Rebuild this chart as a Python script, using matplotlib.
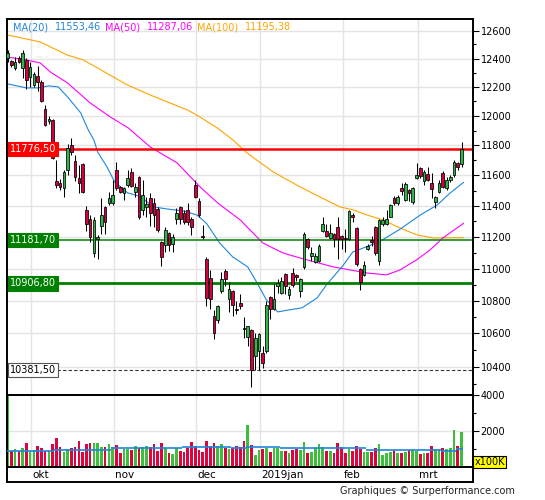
import matplotlib
matplotlib.use("Agg")
import matplotlib.pyplot as plt
from matplotlib import transforms

# daily candles, 21 Sep 2018 .. 19 Mar 2019 (index 0..121)
opens = [12404, 12383, 12333, 12404, 12333, 12390, 12270, 12214, 12277, 12235,
         12049, 11966, 11973, 11564, 11551, 11519, 11637, 11803, 11697, 11584,
         11677, 11376, 11312, 11097, 11185, 11268, 11396, 11422, 11422, 11637,
         11525, 11486, 11538, 11624, 11492, 11591, 11376, 11396, 11454, 11422,
         11383, 11166, 11147, 11223, 11153, 11318, 11396, 11357, 11376, 11318,
         11538, 11435, 11204, 11060, 10941, 10708, 10684, 10861, 10985, 10812,
         10861, 10751, 10788, 10630, 10576, 10618, 10462, 10492, 10480, 10492,
         10824, 10751, 10892, 10849, 10966, 10837, 10972, 10960, 10861, 11010,
         11185, 11078, 11041, 11048, 11236, 11236, 11191, 11216, 11261, 11204,
         11191, 11185, 11344, 11255, 10997, 10960, 11122, 11178, 11261, 11048,
         11286, 11280, 11331, 11454, 11422, 11519, 11441, 11506, 11428, 11584,
         11650, 11564, 11610, 11551, 11428, 11492, 11617, 11519, 11571, 11604,
         11683, 11677]
highs = [12461, 12390, 12411, 12418, 12461, 12404, 12376, 12305, 12347, 12249,
         12076, 12001, 11980, 11703, 11578, 11637, 11810, 11850, 11736, 11670,
         11683, 11402, 11344, 11325, 11215, 11454, 11400, 11492, 11571, 11690,
         11530, 11525, 11637, 11650, 11551, 11597, 11571, 11460, 11486, 11454,
         11396, 11172, 11261, 11229, 11216, 11389, 11400, 11376, 11422, 11325,
         11571, 11454, 11274, 11072, 10991, 10745, 10775, 10978, 10997, 10916,
         10866, 10800, 10843, 10702, 10648, 10624, 10600, 10600, 10522, 10800,
         10830, 10904, 10935, 10947, 10972, 10892, 11003, 10966, 10941, 11229,
         11191, 11134, 11097, 11153, 11325, 11280, 11280, 11223, 11325, 11210,
         11248, 11376, 11357, 11261, 11003, 11048, 11153, 11204, 11268, 11312,
         11325, 11376, 11415, 11467, 11473, 11551, 11558, 11512, 11525, 11683,
         11656, 11637, 11657, 11617, 11467, 11571, 11630, 11591, 11604, 11703,
         11690, 11823]
lows = [12376, 12340, 12319, 12369, 12263, 12187, 12201, 12201, 12173, 12097,
        11934, 11946, 11710, 11519, 11506, 11460, 11604, 11736, 11565, 11486,
        11486, 11235, 11166, 11072, 11060, 11216, 11216, 11409, 11409, 11506,
        11486, 11441, 11525, 11525, 11460, 11318, 11344, 11325, 11268, 11261,
        11229, 11016, 11103, 11110, 11103, 11280, 11280, 11280, 11274, 11210,
        11454, 11331, 11185, 10770, 10751, 10564, 10665, 10849, 10892, 10733,
        10708, 10720, 10751, 10570, 10522, 10281, 10381, 10381, 10393, 10480,
        10690, 10745, 10849, 10843, 10843, 10812, 10886, 10922, 10824, 10997,
        11122, 11048, 11035, 11041, 11229, 11198, 11185, 11134, 11060, 11122,
        11103, 11178, 11293, 11016, 10867, 10954, 11116, 11141, 11085, 11022,
        11268, 11274, 11325, 11409, 11409, 11473, 11435, 11435, 11415, 11578,
        11584, 11538, 11560, 11454, 11389, 11486, 11519, 11506, 11558, 11591,
        11637, 11657]
closes = [12439, 12355, 12376, 12376, 12439, 12249, 12340, 12291, 12235, 12104,
          11941, 11980, 11716, 11538, 11525, 11624, 11783, 11756, 11591, 11551,
          11492, 11280, 11198, 11306, 11198, 11338, 11293, 11454, 11473, 11519,
          11492, 11519, 11584, 11532, 11525, 11325, 11473, 11415, 11357, 11344,
          11242, 11072, 11242, 11147, 11198, 11357, 11312, 11299, 11299, 11261,
          11460, 11338, 11198, 10818, 10812, 10600, 10769, 10935, 10935, 10873,
          10775, 10745, 10770, 10624, 10642, 10381, 10570, 10594, 10420, 10775,
          10751, 10812, 10910, 10922, 10892, 10873, 10898, 10947, 10935, 11216,
          11134, 11097, 11078, 11141, 11286, 11204, 11223, 11185, 11185, 11185,
          11185, 11364, 11331, 11028, 10916, 11022, 11141, 11166, 11097, 11306,
          11306, 11318, 11409, 11422, 11460, 11499, 11545, 11486, 11519, 11604,
          11597, 11624, 11571, 11512, 11460, 11551, 11525, 11571, 11591, 11690,
          11657, 11776.5]

# volume in units of 100K
volume = [4200, 900, 990, 900, 1050, 1330, 900, 930, 1160, 1050,
          900, 900, 1280, 1620, 1100, 820, 990, 1050, 1100, 1450,
          820, 1280, 1330, 1330, 1330, 1100, 1100, 1280, 1100, 1220,
          760, 990, 990, 930, 1160, 1050, 1100, 1160, 1100, 1280,
          880, 1330, 1050, 760, 700, 1050, 880, 820, 1050, 1390,
          1160, 930, 820, 1450, 1160, 1330, 1160, 1280, 1050, 990,
          1050, 1160, 1100, 1450, 2360, 1220, 650, 930, 990, 1050,
          820, 1050, 1050, 880, 880, 760, 930, 990, 930, 1390,
          760, 820, 1050, 1280, 1100, 880, 880, 760, 1330, 1100,
          760, 990, 880, 1160, 990, 820, 820, 820, 1050, 1280,
          650, 760, 820, 930, 760, 760, 820, 930, 930, 880,
          700, 760, 760, 1160, 990, 990, 1050, 990, 1050, 2080,
          1160, 1950]
avgvol_start = [0, 13, 28, 47, 60, 64, 73, 96, 116, 120]
avgvol_level = [910, 970, 1030, 1085, 1050, 1085, 1030, 970, 910, 990]

# moving averages (index, value)
ma20_idx = [0, 5, 8, 11, 13.5, 16, 19.5, 21.5, 23, 24, 26.5, 28.5, 32, 35, 39,
            42.5, 47, 50.5, 53, 56.5, 60, 64, 66.5, 69, 72, 75, 78.5, 82.5, 85,
            89.5, 92, 99, 104.5, 110, 114.5, 118, 121.5]
ma20_val = [12222, 12194, 12194, 12208, 12201, 12131, 12021, 11905, 11837, 11756,
            11656, 11558, 11485, 11465, 11393, 11380, 11367, 11341, 11287, 11162,
            11073, 11010, 10910, 10804, 10731, 10743, 10756, 10817, 10898, 11022,
            11104, 11168, 11248, 11341, 11406, 11485, 11553.46]
ma50_idx = [0, 5, 8.7, 11.4, 16, 22, 27.4, 32.2, 38, 45.2, 51.3, 56, 62, 68,
            73.4, 78, 86.8, 95.8, 101, 104.6, 109, 112.6, 116, 121.5]
ma50_val = [12411, 12390, 12369, 12305, 12228, 12090, 11993, 11918, 11790, 11683,
            11524, 11419, 11309, 11162, 11098, 11066, 11010, 10972, 10960, 10991,
            11054, 11117, 11193, 11287.06]
ma100_idx = [0, 8.7, 15.9, 20.2, 28.2, 31.9, 38, 47.9, 51.3, 55.9, 60.1, 63.8,
             70.8, 78, 83.3, 88.6, 92.1, 95.8, 100.1, 104.6, 109.1, 113.4, 121.5]
ma100_val = [12568, 12518, 12425, 12390, 12270, 12215, 12145, 12042, 11993, 11918,
             11837, 11750, 11623, 11524, 11458, 11393, 11374, 11341, 11309, 11257,
             11213, 11193, 11195.38]

months = ["okt", "nov", "dec", "2019jan", "feb", "mrt"]
month_start = [6, 28, 50, 67, 89, 109]

last_close = 11776.50
support_hi = 11181.70
support_lo = 10906.80
low_close = 10381.50

price_ticks = [10400, 10600, 10800, 11000, 11200, 11400, 11600, 11800,
               12000, 12200, 12400, 12600]
price_minor = [10300, 10500, 10700, 10900, 11100, 11300, 11500, 11700,
               11900, 12100, 12300, 12500]

GREEN = "#2fb548"
RED = "#d6003c"
VGREEN = "#3cbf3c"
VRED = "#d9063f"
C20 = "#1e86dc"
C50 = "#ff00ff"
C100 = "#ffa500"
GRID = "#e4e4e4"


def euro(v):
    return f"{v:.2f}".replace(".", ",")


W, H = 545, 500
fig = plt.figure(figsize=(W / 100, H / 100), dpi=100)

L, R = 7 / W, 466 / W
ax = fig.add_axes([L, 105 / H, R, 376 / H])
axv = fig.add_axes([L, 33 / H, R, 72 / H], sharex=ax)
axb = fig.add_axes([L, 18 / H, R, 15 / H], sharex=ax)

n = len(closes)
x = list(range(n))
up = [c >= o for o, c in zip(opens, closes)]

# price pane
ax.set_yscale("log")
ax.set_ylim(10234, 12683)
ax.set_xlim(-0.16, 124.05)
ax.vlines(x, lows, highs, color="black", lw=0.75, zorder=3)
bot = [min(o, c) for o, c in zip(opens, closes)]
hgt = [max(abs(c - o), 4) for o, c in zip(opens, closes)]
ax.bar(x, hgt, bottom=bot, width=0.72, color=[GREEN if u else RED for u in up],
       edgecolor="black", linewidth=0.55, zorder=4)

ax.plot(ma100_idx, ma100_val, color=C100, lw=0.8, zorder=2)
ax.plot(ma50_idx, ma50_val, color=C50, lw=0.8, zorder=2)
ax.plot(ma20_idx, ma20_val, color=C20, lw=0.8, zorder=2)

ax.axhline(last_close, color="#ff0000", lw=1.8, zorder=2.5)
ax.axhline(support_hi, color="#008000", lw=1.1, zorder=2.5)
ax.axhline(support_lo, color="#008000", lw=2.0, zorder=2.5)
ax.axhline(low_close, color="#333333", lw=0.8, ls=(0, (3, 2)), zorder=2.5)

blend = transforms.blended_transform_factory(ax.transAxes, ax.transData)
for val, fc, tc, ec in [(last_close, "#ff0000", "white", "#ff0000"),
                        (support_hi, "#008000", "white", "#008000"),
                        (support_lo, "#008000", "white", "#008000"),
                        (low_close, "white", "black", "#555555")]:
    ax.text(0.006, val, euro(val), transform=blend, ha="left", va="center",
            fontsize=7, color=tc, zorder=6,
            bbox=dict(boxstyle="square,pad=0.22", facecolor=fc, edgecolor=ec, lw=0.8))

ax.set_yticks(price_ticks, labels=[str(t) for t in price_ticks])
ax.set_yticks(price_minor, minor=True)
ax.yaxis.set_minor_formatter(plt.NullFormatter())
ax.yaxis.tick_right()
ax.tick_params(axis="y", which="major", direction="out", length=4, width=0.8,
               labelsize=7, pad=1.5)
ax.tick_params(axis="y", which="minor", direction="out", length=2.5, width=0.8)
ax.set_xticks([m + 0.3 for m in month_start])
ax.tick_params(axis="x", length=0, labelbottom=False)
ax.grid(True, which="major", color=GRID, lw=1.0, zorder=0)
ax.set_axisbelow(True)

# legend line
leg = [("MA(20)", 12.7, C20), (euro(ma20_val[-1]), 55, C20),
       ("MA(50)", 105, C50), (euro(ma50_val[-1]), 146.7, C50),
       ("MA(100)", 196.7, C100), (euro(ma100_val[-1]), 245, C100)]
for txt, px, col in leg:
    fig.text(px / W, 1 - 27 / H, txt, color=col, fontsize=7, ha="left", va="center")

# volume pane
axv.bar(x, volume, width=0.72, color=[VGREEN if u else VRED for u in up],
        linewidth=0, zorder=2)
ends = avgvol_start[1:] + [n]
for s, e, lv in zip(avgvol_start, ends, avgvol_level):
    axv.hlines(lv, s - 0.5, e - 0.5, color=C20, lw=1.2, zorder=3)
axv.set_ylim(0, 4000)
axv.set_yticks([2000, 4000], labels=["2000", "4000"])
axv.set_yticks([1000, 3000], minor=True)
axv.yaxis.tick_right()
axv.tick_params(axis="y", which="major", direction="out", length=4, width=0.8,
                labelsize=7, pad=1.5)
axv.tick_params(axis="y", which="minor", direction="out", length=2.5, width=0.8)
axv.tick_params(axis="x", length=0, labelbottom=False)
axv.grid(True, which="major", color=GRID, lw=1.0, zorder=0)
axv.set_axisbelow(True)
axv.text(1.003, 0.0, "x100K", transform=axv.transAxes, ha="left", va="bottom",
         fontsize=7, bbox=dict(boxstyle="square,pad=0.15", facecolor="#ffff00",
                               edgecolor="black", lw=0.8))

# month labels band
axb.set_ylim(0, 1)
axb.tick_params(left=False, bottom=False, labelleft=False, labelbottom=False)
for m, lab in zip(month_start, months):
    axb.text(m + 0.7, 0.45, lab, ha="left", va="center", fontsize=7.5)

for a in (ax, axv, axb):
    for sp in a.spines.values():
        sp.set_color("black")
        sp.set_linewidth(1.4)

fig.text(515 / W, 1 - 491 / H, "Graphiques \u00a9 Surperformance.com", ha="right",
         va="center", fontsize=7, color="#222222")

fig.savefig("out.png", dpi=100)
